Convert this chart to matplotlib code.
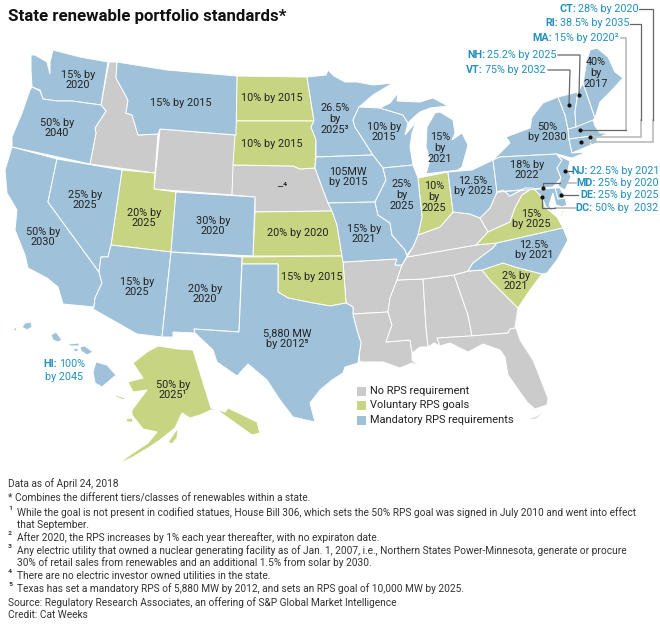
import matplotlib
matplotlib.use("Agg")
import matplotlib.pyplot as plt
from matplotlib.patches import Polygon, Rectangle

plt.rcParams['font.family'] = ['Roboto', 'DejaVu Sans']

# colours
BLUE = "#9fc2da"
GREEN = "#c7d583"
GRAY = "#cbcbcb"
LABEL_BLUE = "#2390bd"
TEXT = "#222222"
LINE_DARK = "#666666"
LINE_LIGHT = "#bbbbbb"

# state outlines (x, y in picture pixels)
WA = [(31,55),(35,55),(47,62),(50,74),(50,62),(53,50),(80,57),(108,62),(101,105),(72,101),(57,101),(43,99),(40,90),(32,87),(31,70)]
OR = [(32,87),(40,91),(43,99),(57,101),(72,101),(101,105),(106,111),(95,128),(96,133),(90,164),(12,147),(12,137),(22,113),(30,90)]
CA = [(12,147),(57,159),(48,202),(99,272),(102,283),(95,298),(94,307),(63,304),(58,287),(47,278),(28,268),(25,255),(15,230),(17,210),(7,193),(5,170)]
NV = [(57,159),(122,170),(111,245),(108,257),(101,257),(99,272),(48,202)]
ID = [(109,62),(117,62),(116,78),(128,100),(126,113),(132,115),(138,135),(158,134),(155,173),(90,164),(96,133),(95,128),(106,111),(101,105)]
MT = [(117,62),(167,70),(237,76),(236,135),(160,129),(158,134),(138,135),(132,115),(126,113),(128,100),(116,78)]
WY = [(160,129),(236,135),(232,195),(154,189)]
UT = [(122,170),(155,173),(154,189),(176,192),(171,252),(111,245)]
CO = [(176,192),(255,197),(253,256),(171,252)]
AZ = [(111,245),(171,252),(162,337),(137,334),(93,309),(94,307),(95,298),(102,283),(99,272),(101,257),(108,257)]
NM = [(171,252),(242,257),(239,332),(194,329),(195,333),(173,332),(173,337),(162,337)]
ND = [(237,76),(307,77),(314,121),(236,121)]
SD = [(236,121),(314,121),(311,127),(316,140),(315,168),(300,169),(293,166),(233,165)]
NE = [(233,165),(293,166),(300,169),(315,168),(322,187),(328,203),(332,211),(255,212),(255,197),(232,195)]
KS = [(255,212),(332,211),(337,225),(342,256),(253,256)]
OK = [(242,257),(342,256),(343,262),(346,303),(330,306),(313,303),(288,298),(278,292),(278,264),(242,264)]
TX = [(242,264),(278,264),(278,292),(288,298),(313,303),(330,306),(346,303),(353,307),(353,315),(357,330),(361,343),(359,355),(358,363),(345,367),(343,373),(332,380),(320,390),(310,403),(315,422),(293,417),(280,400),(267,380),(248,364),(237,376),(217,362),(213,350),(195,333),(194,329),(239,332)]
MN = [(307,77),(326,75),(328,70),(334,76),(345,82),(357,82),(373,85),(393,83),(373,95),(359,107),(353,120),(355,127),(373,155),(316,157),(316,140),(311,127),(314,121)]
IA = [(316,157),(373,155),(383,168),(386,180),(378,196),(375,202),(328,203),(322,187),(315,168)]
MO = [(328,203),(375,202),(378,215),(390,223),(392,235),(405,250),(407,256),(402,265),(395,265),(397,259),(343,262),(342,256),(337,225),(332,211)]
AR = [(343,262),(397,259),(395,265),(402,265),(397,280),(390,298),(388,312),(353,314),(353,307),(346,303)]
LA = [(353,314),(388,312),(392,325),(386,342),(410,340),(412,353),(412,360),(420,367),(412,363),(400,368),(383,362),(360,362),(359,355),(361,343),(357,330)]
MS = [(388,312),(390,298),(397,280),(423,279),(426,327),(428,347),(420,347),(412,353),(410,340),(386,342),(392,325)]
AL = [(423,279),(454,275),(468,315),(472,336),(437,338),(440,346),(434,343),(428,347),(426,327)]
GA = [(454,275),(469,271),(482,270),(490,280),(507,297),(518,308),(515,327),(516,328),(510,329),(508,333),(472,336),(468,315)]
FL = [(437,338),(470,336),(508,333),(510,329),(516,328),(520,340),(533,360),(548,398),(547,405),(535,409),(527,402),(508,375),(505,357),(500,350),(483,344),(468,352),(450,343),(440,346)]
FL_KEYS = [(523,420),(535,417),(547,410),(536,419)]
SC = [(482,270),(503,263),(515,267),(542,274),(530,290),(518,308),(507,297),(490,280)]
NC = [(468,271),(473,263),(493,248),(497,243),(563,228),(568,240),(557,260),(547,273),(542,274),(515,267),(503,263),(482,270)]
TN = [(407,257),(476,245),(497,243),(493,248),(473,263),(468,271),(454,275),(423,279),(397,280),(402,265)]
KY = [(407,257),(413,247),(418,235),(440,227),(453,212),(470,214),(480,218),(488,232),(476,245)]
VA = [(476,245),(488,232),(510,222),(515,208),(522,195),(533,188),(542,197),(545,207),(557,217),(563,228),(497,243)]
WV = [(480,218),(490,208),(497,192),(503,190),(510,196),(525,188),(533,188),(522,195),(515,208),(510,222),(488,232)]
OH = [(448,172),(472,170),(493,160),(497,192),(490,208),(480,218),(470,214),(453,212)]
IN = [(418,178),(448,172),(453,212),(440,227),(418,235),(422,217)]
IL = [(383,168),(413,165),(418,178),(422,217),(418,235),(413,247),(407,255),(405,250),(392,235),(390,223),(378,215),(375,202),(378,196),(386,180)]
WI = [(359,107),(380,108),(403,115),(408,123),(405,135),(416,122),(412,133),(410,147),(413,165),(383,168),(373,155),(355,127),(353,120)]
MI_LOW = [(440,112),(453,120),(455,133),(452,140),(462,133),(468,145),(462,167),(458,170),(426,174),(430,160),(426,147),(427,127),(435,113)]
MI_UP = [(380,108),(390,103),(398,93),(397,101),(420,102),(433,98),(448,106),(430,108),(420,112),(413,118),(408,123),(403,115)]
NY = [(506,137),(530,128),(532,117),(543,103),(558,97),(565,115),(568,129),(569,139),(572,153),(587,152),(572,158),(568,157),(557,154),(500,157),(493,160),(510,143)]
PA = [(493,160),(500,157),(557,154),(563,162),(557,168),(561,178),(553,187),(497,192)]
NJ = [(557,155),(570,161),(568,170),(571,177),(565,190),(558,186),(561,178),(557,168),(562,160)]
DE = [(555,188),(560,188),(565,198),(558,199)]
MD = [(497,192),(555,188),(558,199),(565,198),(567,205),(562,207),(556,205),(553,193),(549,205),(554,213),(546,207),(542,197),(533,188),(525,188),(510,196),(503,190)]
VA_SHORE = [(563,207),(564,208),(562,218),(561,216)]
CT = [(569,139),(590,136),(591,145),(572,153)]
RI = [(590,136),(597,137),(597,143),(591,145)]
MA = [(568,129),(593,120),(595,126),(600,133),(608,133),(600,137),(590,136),(569,139)]
VT = [(558,97),(578,92),(575,112),(576,127),(568,129),(565,115)]
NH = [(578,92),(583,83),(595,118),(593,120),(576,127),(575,112)]
ME = [(583,83),(587,60),(590,50),(597,48),(608,57),(615,72),(623,78),(612,90),(600,102),(595,118)]
AK = [(158,346),(178,349),(193,350),(211,408),(225,412),(228,408),(257,422),(260,433),(252,435),(238,425),(217,410),(211,410),(200,415),(190,418),(182,413),(175,428),(160,440),(148,448),(133,457),(118,464),(130,455),(148,443),(157,432),(143,429),(132,415),(132,410),(147,390),(133,392),(128,382),(143,378),(133,363),(147,352)]
AK_KODIAK = [(168,442),(178,428),(177,438),(172,444)]
AK_NUNIVAK = [(126,419),(132,418),(133,422),(127,422)]
AK_NELSON = [(115,395),(125,398),(124,400),(116,397)]
HI_KAUAI = [(22,327),(25,323),(31,322),(32,327),(27,330)]
HI_NIIHAU = [(13,330),(17,326),(16,331)]
HI_OAHU = [(51,335),(56,332),(62,340),(58,342),(53,340)]
HI_MOLOKAI = [(68,344),(79,343),(79,346),(70,346)]
HI_LANAI = [(73,349),(78,348),(78,352),(74,351)]
HI_MAUI = [(80,347),(85,346),(93,352),(87,355),(81,351)]
HI_BIG = [(96,362),(107,365),(116,375),(102,387),(95,383),(93,372)]

# which state falls in which class
no_rps = [ID, WY, NE, AR, LA, MS, AL, GA, FL, FL_KEYS, TN, KY, WV]
voluntary = [ND, SD, UT, KS, OK, IN, VA, VA_SHORE, SC, AK, AK_KODIAK, AK_NUNIVAK, AK_NELSON]
mandatory = [WA, OR, CA, NV, MT, CO, AZ, NM, TX, MN, IA, MO, WI, MI_LOW, MI_UP, IL, OH,
             NY, PA, NJ, DE, MD, NC, CT, RI, MA, VT, NH, ME,
             HI_KAUAI, HI_NIIHAU, HI_OAHU, HI_MOLOKAI, HI_LANAI, HI_MAUI, HI_BIG]

# labels printed on the states
state_labels = ["15% by\n2020", "50% by\n2040", "50% by\n2030", "25% by\n2025", "20% by\n2025",
                "30% by\n2020", "15% by 2015", "10% by 2015", "10% by 2015", "–⁴", "20% by 2020",
                "15% by\n2025", "20% by\n2020", "15% by 2015", "5,880 MW\nby 2012⁵", "50% by\n2025¹",
                "26.5%\nby\n2025³", "10% by\n2015", "105MW\nby 2015", "25%\nby\n2025", "15%\nby\n2021",
                "10%\nby\n2025", "12.5%\nby 2025", "18% by\n2022", "50%\nby 2030", "40%\nby\n2017",
                "15% by\n2021", "15%\nby 2025", "12.5%\nby 2021", "2% by\n2021"]
state_label_x = [78, 57, 43, 85, 144, 213, 181, 272, 272, 282, 298, 137, 205, 312, 287, 173,
                 335, 384, 348, 402, 440, 434, 473, 527, 547, 596, 364, 531, 534, 516]
state_label_y = [80, 128, 237, 200, 218, 226, 103, 98, 144, 186, 233, 287, 294, 277, 339, 390,
                 119, 132, 177, 195, 148, 197, 186, 170, 132, 73, 234, 219, 250, 281]

# callouts for the small states
callout_state = ["CT:", "RI:", "MA:", "NH:", "VT:", "NJ:", "MD:", "DE:", "DC:"]
callout_value = ["28% by 2020", "38.5% by 2035", "15% by 2020²", "25.2% by 2025", "75% by 2032",
                 "22.5% by 2021", "25% by 2020", "25% by 2025", "50% by  2032"]
callout_x = [576, 558, 552, 485, 483, 588, 596, 596, 593]
callout_y = [9, 23.5, 38, 55, 70, 171, 183, 195, 208]

# leader paths
leaders_dark = [[(639,9),(653,9),(653,120)], [(630,23.5),(641,23.5),(641,120)],
                [(580,130),(626,130)], [(558,55),(580,55),(579,95)], [(548,70),(570,70),(569,105)],
                [(565,171),(572,171)], [(561,195),(578,195)], [(543,188),(543,183),(560,183)],
                [(542,197),(542,208),(555,208)]]
leaders_light = [[(653,120),(653,142),(581,142)], [(641,120),(641,137),(590,137)],
                 [(621,38),(626,38),(626,130)], [(560,183),(576,183)], [(555,208),(577,208)]]
leader_dots = [(581,142),(590,137),(580,130),(579,95),(569,105),(565,171),(543,188),(561,195),(542,197)]

legend_names = ["No RPS requirement", "Voluntary RPS goals", "Mandatory RPS requirements"]
legend_colors = [GRAY, GREEN, BLUE]
legend_y = [391, 405.5, 420]

footer_text = ["Data as of April 24, 2018",
               "* Combines the different tiers/classes of renewables within a state.",
               "While the goal is not present in codified statues, House Bill 306, which sets the 50% RPS goal was signed in July 2010 and went into effect",
               "that September.",
               "After 2020, the RPS increases by 1% each year thereafter, with no expiraton date.",
               "Any electric utility that owned a nuclear generating facility as of Jan. 1, 2007, i.e., Northern States Power-Minnesota, generate or procure",
               "30% of retail sales from renewables and an additional 1.5% from solar by 2030.",
               "There are no electric investor owned utilities in the state.",
               "Texas has set a mandatory RPS of 5,880 MW by 2012, and sets an RPS goal of 10,000 MW by 2025.",
               "Source: Regulatory Research Associates, an offering of S&P Global Market Intelligence",
               "Credit: Cat Weeks"]
footer_x = [8, 8, 17, 17, 17, 17, 17, 17, 17, 8, 8]
footer_y = [484, 498, 513, 525, 538, 551, 563, 576, 589, 603, 615]
note_marks = ["¹", "²", "³", "⁴", "⁵"]
note_y = [511, 536, 549, 574, 587]

fig = plt.figure(figsize=(6.6, 6.26), dpi=100)
ax = fig.add_axes([0, 0, 1, 1])
ax.set_xlim(0, 660)
ax.set_ylim(626, 0)
ax.axis("off")

# Drawing the states
for states, color in [(no_rps, GRAY), (voluntary, GREEN), (mandatory, BLUE)]:
    for s in states:
        ax.add_patch(Polygon(s, closed=True, facecolor=color, edgecolor="white", linewidth=0.7))

ax.text(8, 17, "State renewable portfolio standards*", fontsize=12.2, fontweight="bold",
        color="#111111", va="center")

for lab, x, y in zip(state_labels, state_label_x, state_label_y):
    ax.text(x, y, lab, fontsize=7.8, color=TEXT, ha="center", va="center", linespacing=1.1)

# Leader lines go under the callout text
for path in leaders_light:
    ax.plot(*zip(*path), color=LINE_LIGHT, linewidth=1.2, solid_joinstyle="miter")
for path in leaders_dark:
    ax.plot(*zip(*path), color=LINE_DARK, linewidth=0.9, solid_joinstyle="miter")
ax.plot(*zip(*leader_dots), linestyle="none", marker="o", markersize=2.0, color="#111111")

for st, val, x, y in zip(callout_state, callout_value, callout_x, callout_y):
    ax.text(x, y, st, fontsize=7.75, fontweight="bold", color=LABEL_BLUE, ha="right", va="center")
    ax.text(x + 2, y, val, fontsize=7.75, color=LABEL_BLUE, ha="left", va="center")

ax.text(57, 364, "HI:", fontsize=7.75, fontweight="bold", color=LABEL_BLUE, ha="right", va="center")
ax.text(59, 364, "100%", fontsize=7.75, color=LABEL_BLUE, ha="left", va="center")
ax.text(64, 377, "by 2045", fontsize=7.75, color=LABEL_BLUE, ha="center", va="center")

# Legend
for name, color, y in zip(legend_names, legend_colors, legend_y):
    ax.add_patch(Rectangle((357, y - 4.5), 9, 9, facecolor=color, edgecolor="none"))
    ax.text(370.5, y, name, fontsize=7.9, color=TEXT, va="center")

# Footnotes
for line, x, y in zip(footer_text, footer_x, footer_y):
    ax.text(x, y, line, fontsize=7.3, color="#333333", va="center")
for mark, y in zip(note_marks, note_y):
    ax.text(8, y, mark, fontsize=8, color="#333333", va="center")

plt.savefig("out.png", dpi=100)
